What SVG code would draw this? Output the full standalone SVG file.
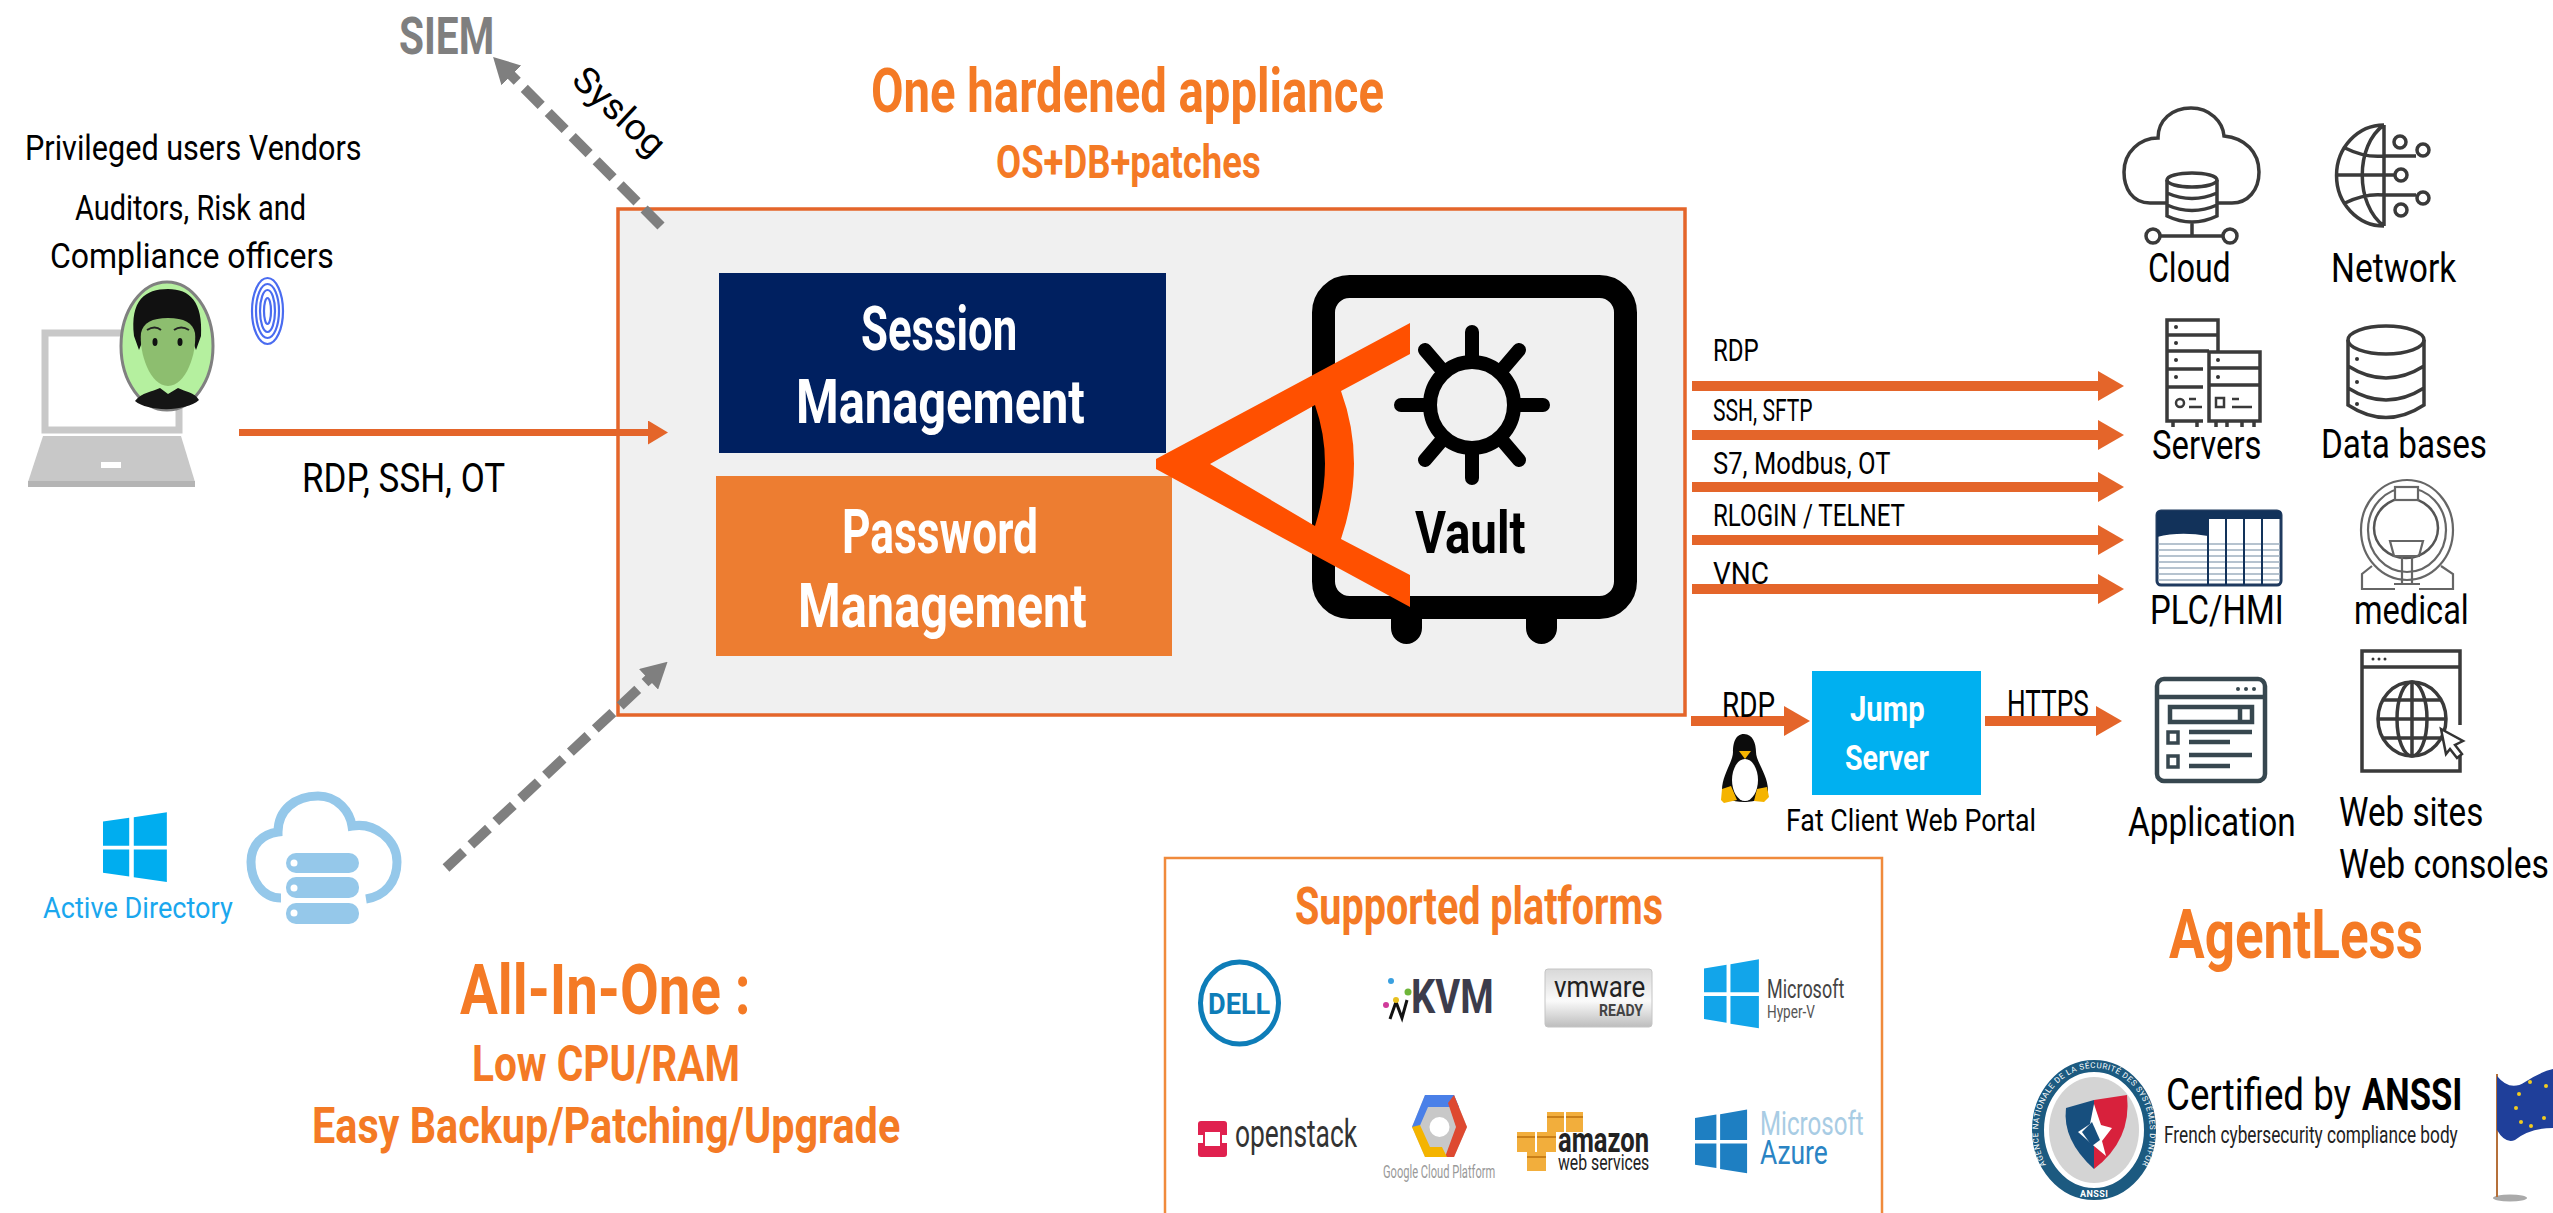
<svg xmlns="http://www.w3.org/2000/svg" width="2553" height="1213" viewBox="0 0 2553 1213">
<style>
text{font-family:Roboto,"Liberation Sans",sans-serif;font-weight:400;fill:#000}
.b{font-weight:700}
.o{font-weight:700;fill:#F47A25}
.w{font-weight:700;fill:#fff}
.ic{fill:none;stroke:#3a3a3a;stroke-width:3.5}
.th{fill:none;stroke:#666;stroke-width:2.2}
.ap{fill:none;stroke:#37474F;stroke-width:4.5}
.flow{fill:none;stroke:#E4652A;stroke-width:10}
.dash{fill:none;stroke:#7F7F7F;stroke-width:10;stroke-dasharray:24 10}
.ring{fill:none;stroke:#4A6CF0;stroke-width:2.2}
.plc{stroke:#9fb0c0;stroke-width:1.5;fill:none}
</style>
<defs>
<marker id="ah" markerUnits="userSpaceOnUse" markerWidth="26" markerHeight="30" refX="2" refY="15" orient="auto"><path d="M0,0L26,15L0,30Z" fill="#E4652A"/></marker>
<marker id="ahs" markerUnits="userSpaceOnUse" markerWidth="20" markerHeight="24" refX="2" refY="12" orient="auto"><path d="M0,0L20,12L0,24Z" fill="#E4652A"/></marker>
<marker id="ag" markerUnits="userSpaceOnUse" markerWidth="26" markerHeight="28" refX="2" refY="14" orient="auto"><path d="M0,0L26,14L0,28Z" fill="#7F7F7F"/></marker>
<linearGradient id="vm" x1="0" y1="0" x2="0" y2="1"><stop offset="0" stop-color="#d8d8d8"/><stop offset=".55" stop-color="#fafafa"/><stop offset="1" stop-color="#bdbdbd"/></linearGradient>
<g id="win4"><path d="M0,7L23,3V33H0ZM27,2.500L56,-3V33H27ZM0,37H23V66L0,62ZM27,37H56V72L27,67Z"/></g>
</defs>
<rect width="2553" height="1213" fill="#fff"/>

<g id="appliance">
<rect x="618" y="209" width="1067" height="506" fill="#F0F0F0" stroke="#E4652A" stroke-width="3.500"/>
</g>
<g id="title">
<text class="o" transform="matrix(.76 0 0 1 871 112)" font-size="62" textLength="675" lengthAdjust="spacingAndGlyphs">One hardened appliance</text>
<text class="o" transform="matrix(.79 0 0 1 996 178)" font-size="46" textLength="335" lengthAdjust="spacingAndGlyphs">OS+DB+patches</text>
</g>
<g id="session-management">
<rect x="719" y="273" width="447" height="180" fill="#002060"/>
<text class="w" transform="matrix(.71 0 0 1 861 350)" font-size="62" textLength="220" lengthAdjust="spacingAndGlyphs">Session</text>
<text class="w" transform="matrix(.785 0 0 1 796 423)" font-size="62" textLength="368" lengthAdjust="spacingAndGlyphs">Management</text>
</g>
<g id="password-management">
<rect x="716" y="476" width="456" height="180" fill="#ED7D31"/>
<text class="w" transform="matrix(.71 0 0 1 842 553)" font-size="62" textLength="276" lengthAdjust="spacingAndGlyphs">Password</text>
<text class="w" transform="matrix(.785 0 0 1 798 627)" font-size="62" textLength="368" lengthAdjust="spacingAndGlyphs">Management</text>
</g>
<g id="vault">
<path d="M1391,610h31v18a15.500,16 0 0 1 -31,0ZM1526,610h31v18a15.500,16 0 0 1 -31,0Z" fill="#000"/>
<rect x="1323.500" y="286.500" width="302" height="321" rx="26" fill="#F0F0F0" stroke="#000" stroke-width="23"/>
<g stroke="#000" stroke-width="14" stroke-linecap="round">
<path d="M1472,332V478M1401,405H1543M1519,350L1425,460M1425,350L1519,460"/>
</g>
<ellipse cx="1472" cy="405" rx="42" ry="43" fill="#F0F0F0" stroke="#000" stroke-width="14"/>
<text class="b" transform="matrix(.79 0 0 1 1415 553)" font-size="60" textLength="140" lengthAdjust="spacingAndGlyphs">Vault</text>
<path d="M1156,464V459L1410,323V354L1341,391Q1367,462 1341,539L1410,575V607L1156,469ZM1210,464L1315,526Q1335,462 1315,405Z" fill="#FF5000" fill-rule="evenodd"/>
</g>

<g id="connectors">
<path class="flow" d="M239,432.500H650" style="stroke-width:7" marker-end="url(#ahs)"/>
<path class="dash" d="M661,226L510,74" marker-end="url(#ag)"/>
<path class="dash" d="M446,868L650,678" marker-end="url(#ag)"/>
<path class="flow" d="M1692,386H2100" marker-end="url(#ah)"/>
<path class="flow" d="M1692,435H2100" marker-end="url(#ah)"/>
<path class="flow" d="M1692,487H2100" marker-end="url(#ah)"/>
<path class="flow" d="M1692,540H2100" marker-end="url(#ah)"/>
<path class="flow" d="M1692,589H2100" marker-end="url(#ah)"/>
<path class="flow" d="M1691,721H1786" marker-end="url(#ah)"/>
<path class="flow" d="M1985,721H2098" marker-end="url(#ah)"/>
</g>
<g id="connector-labels">
<text transform="matrix(.85 0 0 1 302 492)" font-size="40" textLength="239" lengthAdjust="spacingAndGlyphs">RDP, SSH, OT</text>
<text transform="translate(570,82) rotate(43) scale(1.03,1)" font-size="36" textLength="109" lengthAdjust="spacingAndGlyphs">Syslog</text>
<text transform="matrix(.75 0 0 1 1713 361)" font-size="32" textLength="61" lengthAdjust="spacingAndGlyphs">RDP</text>
<text transform="matrix(.66 0 0 1 1713 421)" font-size="32" textLength="151" lengthAdjust="spacingAndGlyphs">SSH, SFTP</text>
<text transform="matrix(.8 0 0 1 1713 474)" font-size="32" textLength="222" lengthAdjust="spacingAndGlyphs">S7, Modbus, OT</text>
<text transform="matrix(.75 0 0 1 1713 526)" font-size="32" textLength="256" lengthAdjust="spacingAndGlyphs">RLOGIN / TELNET</text>
<text transform="matrix(.875 0 0 1 1713 584)" font-size="32" textLength="64" lengthAdjust="spacingAndGlyphs">VNC</text>
<text transform="matrix(.77 0 0 1 1722 717)" font-size="36" textLength="69" lengthAdjust="spacingAndGlyphs">RDP</text>
<text transform="matrix(.73 0 0 1 2007 716)" font-size="36" textLength="112" lengthAdjust="spacingAndGlyphs">HTTPS</text>
</g>

<g id="siem">
<text class="b" transform="matrix(.8 0 0 1 399 54)" font-size="51" style="fill:#7F7F7F" textLength="119" lengthAdjust="spacingAndGlyphs">SIEM</text>
</g>
<g id="users">
<text transform="matrix(.85 0 0 1 25 160)" font-size="36" textLength="396" lengthAdjust="spacingAndGlyphs">Privileged users Vendors</text>
<text transform="matrix(.8 0 0 1 75 220)" font-size="36" textLength="289" lengthAdjust="spacingAndGlyphs">Auditors, Risk and</text>
<text transform="matrix(.94 0 0 1 50 268)" font-size="36" textLength="302" lengthAdjust="spacingAndGlyphs">Compliance officers</text>
<rect x="45" y="333" width="134" height="97" fill="#fff" stroke="#C8C8C8" stroke-width="7"/>
<path d="M43,436H181L195,482H28Z" fill="#C8C8C8"/>
<path d="M28,481H195V487H28Z" fill="#B4B4B4"/>
<rect x="101" y="462" width="20" height="6" fill="#fff"/>
<ellipse cx="167" cy="346" rx="46" ry="64" fill="#B5F09F" stroke="#808080" stroke-width="3"/>
<path d="M134,336C130,300 145,289 168,289C190,289 203,302 201,336L196,350L190,335L145,335L139,350Z" fill="#111"/>
<path d="M141,333C143,323 152,318 168,318C184,318 193,323 195,333C197,353 186,386 168,386C150,386 139,353 141,333Z" fill="#8DBE6F"/>
<path d="M135,401C142,392 152,392 160,388L168,394L178,388C186,392 194,392 199,400C186,412 148,412 135,401Z" fill="#151515"/>
<ellipse cx="155" cy="342" rx="2.500" ry="4" fill="#111"/><ellipse cx="180" cy="342" rx="2.500" ry="4" fill="#111"/>
<path d="M147,330Q155,325 161,330M174,330Q181,325 189,330" fill="none" stroke="#222" stroke-width="2"/>
<g id="fingerprint">
<ellipse class="ring" cx="267.500" cy="311" rx="15.500" ry="33"/><ellipse class="ring" cx="267.500" cy="311" rx="11.500" ry="27"/><ellipse class="ring" cx="267.500" cy="311" rx="7.500" ry="21"/><ellipse class="ring" cx="267.500" cy="311" rx="3.500" ry="13"/>
</g>
</g>

<g id="active-directory">
<use href="#win4" transform="translate(103,815) scale(1.14,.93)" fill="#00ADEF" stroke="none"/>
<text transform="matrix(.94 0 0 1 43 918)" font-size="29" style="fill:#1AA7EE" textLength="202" lengthAdjust="spacingAndGlyphs">Active Directory</text>
<path d="M281,898C262,898 251,880 251,862C251,845 262,834 278,832C278,810 295,796 318,796C338,796 350,812 352,826C375,822 397,840 397,862C397,882 385,896 366,899" fill="none" stroke="#95C8EA" stroke-width="9"/>
<rect x="286" y="853" width="73" height="20" rx="10" fill="#95C8EA"/>
<rect x="286" y="877" width="73" height="21" rx="10" fill="#95C8EA"/>
<rect x="286" y="903" width="73" height="21" rx="10" fill="#95C8EA"/>
<circle cx="294" cy="863" r="3.500" fill="#fff"/><circle cx="294" cy="888" r="3.500" fill="#fff"/><circle cx="294" cy="913" r="3.500" fill="#fff"/>
</g>
<g id="all-in-one">
<text class="o" transform="matrix(.85 0 0 1 460 1014)" font-size="70" textLength="342" lengthAdjust="spacingAndGlyphs">All-In-One :</text>
<text class="o" transform="matrix(.8 0 0 1 472 1081)" font-size="50" textLength="335" lengthAdjust="spacingAndGlyphs">Low CPU/RAM</text>
<text class="o" transform="matrix(.825 0 0 1 312 1143)" font-size="50" textLength="713" lengthAdjust="spacingAndGlyphs">Easy Backup/Patching/Upgrade</text>
</g>

<g id="cloud">
<path class="ic" d="M2166,203H2150C2132,203 2124,188 2124,172C2124,152 2140,138 2158,138C2158,120 2172,108 2191,108C2210,108 2223,122 2224,136C2245,138 2259,152 2259,172C2259,190 2248,203 2232,203H2218"/>
<ellipse class="ic" cx="2192" cy="180" rx="25" ry="7"/>
<path class="ic" d="M2167,180V216Q2192,228 2217,216V180M2167,193Q2192,204 2217,193M2167,205Q2192,216 2217,205M2192,223V236M2160,236H2223"/>
<circle class="ic" cx="2153" cy="236" r="7"/><circle class="ic" cx="2230" cy="236" r="7"/>
<text transform="matrix(.81 0 0 1 2148 282)" font-size="40" textLength="102" lengthAdjust="spacingAndGlyphs">Cloud</text>
</g>
<g id="network">
<path class="ic" d="M2384,125A47,50 0 0 0 2384,226M2384,125C2355,145 2355,205 2384,226M2384,125V226M2337,175H2394M2345,148Q2365,158 2384,156H2416M2345,203Q2365,193 2384,195H2416"/>
<circle class="ic" cx="2400" cy="142" r="6"/><circle class="ic" cx="2423" cy="150" r="6"/><circle class="ic" cx="2401" cy="175" r="6"/><circle class="ic" cx="2401" cy="210" r="6"/><circle class="ic" cx="2423" cy="198" r="6"/>
<text transform="matrix(.83 0 0 1 2331 282)" font-size="40" textLength="151" lengthAdjust="spacingAndGlyphs">Network</text>
</g>
<g id="servers">
<path class="ic" d="M2203,421H2167V320H2218V352M2167,335H2218M2167,351H2209M2167,369H2203M2167,387H2203M2173,421V427M2197,421V427"/>
<rect class="ic" x="2209" y="352" width="51" height="69"/>
<path class="ic" d="M2209,368H2260M2209,385H2260M2216,421V427M2227,421V427M2242,421V427M2254,421V427"/>
<circle cx="2176" cy="327" r="2" fill="#333"/><circle cx="2176" cy="343" r="2" fill="#333"/><circle cx="2176" cy="360" r="2" fill="#333"/><circle cx="2176" cy="377" r="2" fill="#333"/>
<circle cx="2218" cy="360" r="2" fill="#333"/><circle cx="2218" cy="377" r="2" fill="#333"/>
<circle class="ic" cx="2180" cy="403" r="4" style="stroke-width:2.500"/><rect class="ic" x="2216" y="398" width="8" height="9" style="stroke-width:2.500"/>
<path class="ic" d="M2189,399H2196M2189,407H2202M2232,399H2239M2232,407H2252" style="stroke-width:2.500"/>
<text transform="matrix(.83 0 0 1 2152 459)" font-size="40" textLength="132" lengthAdjust="spacingAndGlyphs">Servers</text>
</g>
<g id="databases">
<ellipse class="ic" cx="2386" cy="340" rx="38" ry="14"/>
<path class="ic" d="M2348,340V405Q2386,430 2424,405V340M2348,366Q2386,390 2424,366M2348,388Q2386,412 2424,388"/>
<circle cx="2357" cy="359" r="2" fill="#333"/><circle cx="2357" cy="382" r="2" fill="#333"/><circle cx="2357" cy="404" r="2" fill="#333"/>
<text transform="matrix(.83 0 0 1 2321 458)" font-size="40" textLength="200" lengthAdjust="spacingAndGlyphs">Data bases</text>
</g>
<g id="plc">
<rect x="2157" y="511" width="124" height="74" rx="4" fill="#fff" stroke="#1F3A5F" stroke-width="3"/>
<path d="M2157,515Q2157,511 2161,511H2208V536Q2180,531 2157,537Z" fill="#12325A"/>
<path d="M2208,511H2281V519H2208Z" fill="#12325A"/>
<path class="plc" d="M2158,544H2280M2158,550H2280M2158,556H2280M2158,562H2280M2158,568H2280M2158,574H2280M2158,580H2280"/>
<path d="M2208,511V585M2226,511V585M2244,511V585M2262,511V585" stroke="#12325A" stroke-width="2"/>
<text transform="matrix(.82 0 0 1 2150 624)" font-size="40" textLength="163" lengthAdjust="spacingAndGlyphs">PLC/HMI</text>
</g>
<g id="medical">
<ellipse class="th" cx="2407" cy="530" rx="46" ry="50"/>
<ellipse class="th" cx="2407" cy="530" rx="39" ry="42"/>
<ellipse cx="2406" cy="528" rx="32" ry="30" fill="#fff" stroke="#555" stroke-width="2.500"/>
<rect class="th" x="2395" y="487" width="23" height="13" style="fill:#fff"/>
<path class="th" d="M2390,541H2423L2419,556H2394ZM2402,556V583M2412,556V583M2394,584H2420M2372,566L2362,574V589H2395M2441,566L2453,574V589H2419"/>
<text transform="matrix(.82 0 0 1 2354 624)" font-size="40" textLength="140" lengthAdjust="spacingAndGlyphs">medical</text>
</g>

<g id="jump-server">
<rect x="1812" y="671" width="169" height="124" fill="#00B0F0"/>
<text class="w" transform="matrix(.82 0 0 1 1850 721)" font-size="36" textLength="91" lengthAdjust="spacingAndGlyphs">Jump</text>
<text class="w" transform="matrix(.8 0 0 1 1845 770)" font-size="36" textLength="105" lengthAdjust="spacingAndGlyphs">Server</text>
<text transform="matrix(.865 0 0 1 1786 831)" font-size="32" textLength="289" lengthAdjust="spacingAndGlyphs">Fat Client Web Portal</text>
</g>
<g id="tux">
<path d="M1744,734C1753,734 1756,744 1756,752C1756,762 1768,775 1768,790C1768,798 1756,802 1744,802C1732,802 1722,798 1722,790C1722,775 1733,762 1733,752C1733,744 1735,734 1744,734Z" fill="#0c0c0c"/>
<ellipse cx="1745" cy="780" rx="13" ry="21" fill="#fff"/>
<path d="M1739,751H1751L1745,759Z" fill="#F5B400"/>
<path d="M1722,789L1731,786L1737,800L1724,803L1721,800ZM1767,787L1757,789L1754,801L1764,802L1769,797Z" fill="#F5B400"/>
</g>
<g id="application">
<rect class="ap" x="2157" y="679" width="108" height="102" rx="7"/>
<path class="ap" d="M2157,697H2265M2170,707H2252V722H2170ZM2240,707V722M2189,732H2252M2189,742H2230M2189,755H2252M2189,766H2230"/>
<rect class="ap" x="2168" y="732" width="10" height="11" style="stroke-width:3.500"/><rect class="ap" x="2168" y="756" width="10" height="11" style="stroke-width:3.500"/>
<circle cx="2238" cy="689" r="2" fill="#37474F"/><circle cx="2246" cy="689" r="2" fill="#37474F"/><circle cx="2254" cy="689" r="2" fill="#37474F"/>
<text transform="matrix(.83 0 0 1 2128 836)" font-size="40" textLength="202" lengthAdjust="spacingAndGlyphs">Application</text>
</g>
<g id="websites">
<path class="ic" d="M2460,754V771H2362V651H2460V725M2362,667H2460"/>
<circle cx="2373" cy="659" r="1.500" fill="#333"/><circle cx="2379" cy="659" r="1.500" fill="#333"/><circle cx="2385" cy="659" r="1.500" fill="#333"/>
<ellipse class="ic" cx="2412" cy="719" rx="34" ry="37"/>
<ellipse class="ic" cx="2412" cy="719" rx="15" ry="37"/>
<path class="ic" d="M2412,682V756M2378,719H2446M2384,700H2440M2384,738H2440"/>
<path d="M2441,729L2463,741L2455,745L2462,754L2457,758L2450,749L2446,754Z" fill="#fff" stroke="#333" stroke-width="2.500"/>
<text transform="matrix(.82 0 0 1 2339 826)" font-size="40" textLength="176" lengthAdjust="spacingAndGlyphs">Web sites</text>
<text transform="matrix(.84 0 0 1 2339 878)" font-size="40" textLength="250" lengthAdjust="spacingAndGlyphs">Web consoles</text>
</g>
<g id="agentless">
<text class="o" transform="matrix(.77 0 0 1 2169 958)" font-size="69" textLength="330" lengthAdjust="spacingAndGlyphs">AgentLess</text>
</g>

<g id="supported-platforms">
<path d="M1165,1213V858H1882V1213" fill="#fff" stroke="#F08A3C" stroke-width="2.500"/>
<text class="o" transform="matrix(.765 0 0 1 1295 924)" font-size="52" textLength="481" lengthAdjust="spacingAndGlyphs">Supported platforms</text>
<ellipse cx="1239.500" cy="1003" rx="39" ry="41" fill="none" stroke="#0E7DB8" stroke-width="5"/>
<text class="b" transform="matrix(.89 0 0 1 1208 1014)" font-size="30" style="fill:#0E7DB8" textLength="70" lengthAdjust="spacingAndGlyphs">DELL</text>
<g id="kvm">
<text class="b" transform="matrix(.78 0 0 1 1411 1013)" font-size="48" style="fill:#3C3C4C" textLength="106" lengthAdjust="spacingAndGlyphs">KVM</text>
<path d="M1390,1019L1396,1002L1402,1018L1407,1000" fill="none" stroke="#111" stroke-width="3"/>
<circle cx="1391" cy="981" r="3" fill="#3aa0e0"/><circle cx="1408" cy="992" r="3.500" fill="#6fb63a"/><circle cx="1386" cy="1005" r="3" fill="#d03a9a"/><circle cx="1396" cy="1000" r="3" fill="#e8c020"/>
</g>
<g id="vmware">
<rect x="1545" y="969" width="107" height="58" rx="3" fill="url(#vm)" stroke="#c4c4c4"/>
<text transform="matrix(.86 0 0 1 1554 997)" font-size="30" style="fill:#222" textLength="106" lengthAdjust="spacingAndGlyphs">vmware</text>
<text class="b" transform="matrix(.88 0 0 1 1599 1016)" font-size="16" style="fill:#444" textLength="50" lengthAdjust="spacingAndGlyphs">READY</text>
</g>
<g id="hyperv">
<use href="#win4" transform="translate(1704,962) scale(.98,.92)" fill="#12A5EA" stroke="none"/>
<text transform="matrix(.69 0 0 1 1767 998)" font-size="26" style="fill:#444" textLength="112" lengthAdjust="spacingAndGlyphs">Microsoft</text>
<text transform="matrix(.76 0 0 1 1767 1018)" font-size="18" style="fill:#555" textLength="63" lengthAdjust="spacingAndGlyphs">Hyper-V</text>
</g>
<g id="openstack">
<rect x="1198" y="1121" width="29" height="36" rx="3" fill="#E0214F"/>
<rect x="1205" y="1132" width="15" height="14" fill="#fff"/>
<path d="M1198,1135h5v8h-5zM1222,1135h5v8h-5z" fill="#fff"/>
<text transform="matrix(.69 0 0 1 1235 1147)" font-size="38" style="fill:#333" textLength="177" lengthAdjust="spacingAndGlyphs">openstack</text>
</g>
<g id="google-cloud">
<path d="M1425,1095H1454L1467,1127L1454,1157H1425L1412,1127Z" fill="#C8C8C8"/>
<path d="M1425,1095H1454L1459,1107H1428L1418,1130L1412,1127Z" fill="#4A80E8"/>
<path d="M1454,1095L1467,1127L1454,1157H1445L1456,1127L1448,1103Z" fill="#DE4930"/>
<path d="M1412,1127L1425,1157H1447L1442,1147H1430L1420,1125Z" fill="#F4B400"/>
<circle cx="1439.500" cy="1127" r="10" fill="#fff"/>
<text transform="matrix(.6 0 0 1 1383 1178)" font-size="18" style="fill:#999" textLength="187" lengthAdjust="spacingAndGlyphs">Google Cloud Platform</text>
</g>
<g id="aws">
<path d="M1547,1112h17v20h-17zM1566,1112h17v20h-17zM1517,1132h18v20h-18zM1537,1132h19v20h-19zM1527,1152h19v19h-19z" fill="#F2AE3C"/>
<path d="M1547,1117h17M1566,1117h17M1517,1137h18M1537,1137h19M1527,1157h19" stroke="#C97F18" stroke-width="2"/>
<text class="b" transform="matrix(.7 0 0 1 1558 1152)" font-size="36" style="fill:#222" textLength="130" lengthAdjust="spacingAndGlyphs">amazon</text>
<text transform="matrix(.78 0 0 1 1558 1170)" font-size="22" style="fill:#222" textLength="117" lengthAdjust="spacingAndGlyphs">web services</text>
</g>
<g id="azure">
<use href="#win4" transform="translate(1695,1112) scale(.93,.85)" fill="#1E7FC2" stroke="none"/>
<text transform="matrix(.71 0 0 1 1760 1135)" font-size="34" style="fill:#A8CCE4" textLength="146" lengthAdjust="spacingAndGlyphs">Microsoft</text>
<text transform="matrix(.78 0 0 1 1760 1164)" font-size="34" style="fill:#2A84C4" textLength="87" lengthAdjust="spacingAndGlyphs">Azure</text>
</g>
</g>

<g id="anssi">
<defs><path id="sealarc" d="M2046,1165A56,64 0 1 1 2142,1165"/></defs>
<ellipse cx="2094" cy="1130" rx="56" ry="64" fill="#fff" stroke="#1C5A80" stroke-width="12"/>
<ellipse cx="2094" cy="1130" rx="45" ry="53" fill="#D4D4D4"/>
<path d="M2094,1100L2066,1108Q2062,1140 2094,1169Z" fill="#174F7E"/>
<path d="M2094,1100L2127,1095Q2132,1140 2094,1169Z" fill="#D8213C"/>
<path d="M2094,1104L2101,1125L2112,1128L2102,1141L2106,1156L2094,1146L2078,1132L2090,1124Z" fill="#fff"/>
<path d="M2092,1122L2082,1132L2092,1146L2100,1140Z" fill="#174F7E"/>
<text font-size="8" style="fill:#fff"><textPath href="#sealarc" textLength="290" lengthAdjust="spacing">AGENCE NATIONALE DE LA SÉCURITÉ DES SYSTÈMES D'INFORMATION</textPath></text>
<text class="b" x="2080" y="1197" font-size="9" style="fill:#fff" textLength="28" lengthAdjust="spacing">ANSSI</text>
<text transform="matrix(.92 0 0 1 2166 1110)" font-size="44" textLength="201" lengthAdjust="spacingAndGlyphs">Certified by</text>
<text class="b" transform="matrix(.79 0 0 1 2362 1110)" font-size="44" textLength="127" lengthAdjust="spacingAndGlyphs">ANSSI</text>
<text transform="matrix(.74 0 0 1 2164 1143)" font-size="24" style="fill:#222" textLength="397" lengthAdjust="spacingAndGlyphs">French cybersecurity compliance body</text>
</g>
<g id="eu-flag">
<ellipse cx="2510" cy="1198" rx="17" ry="3.500" fill="#aaa"/>
<path d="M2497,1074V1197" stroke="#B5703A" stroke-width="2"/>
<path d="M2497,1076Q2510,1092 2525,1082T2553,1069V1128Q2530,1128 2515,1140Q2505,1144 2497,1130Z" fill="#1F3F9A"/>
<g fill="#F2CC1F"><circle cx="2530" cy="1082" r="2"/><circle cx="2546" cy="1086" r="2"/><circle cx="2519" cy="1094" r="2"/><circle cx="2516" cy="1108" r="2"/><circle cx="2521" cy="1122" r="2"/><circle cx="2531" cy="1126" r="2"/><circle cx="2544" cy="1118" r="2"/></g>
</g>
</svg>
